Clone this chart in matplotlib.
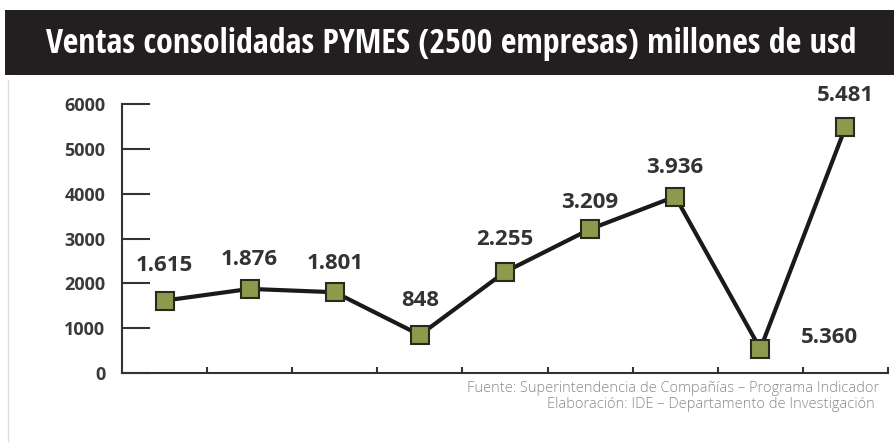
import matplotlib
matplotlib.use("Agg")
import matplotlib.pyplot as plt
from matplotlib.patches import Rectangle

# Ventas consolidadas (millones de USD)
periods = ["P1", "P2", "P3", "P4", "P5", "P6", "P7", "P8", "P9"]
ventas = [1615, 1876, 1801, 848, 2255, 3209, 3936, 536, 5481]
value_labels = ["1.615", "1.876", "1.801", "848", "2.255", "3.209", "3.936", "5.360", "5.481"]
y_ticks = [0, 1000, 2000, 3000, 4000, 5000, 6000]

title = "Ventas consolidadas PYMES (2500 empresas) millones de usd"
source_lines = ["Fuente: Superintendencia de Compañías – Programa Indicador",
                "Elaboración: IDE – Departamento de Investigación"]

W, H = 894, 442
fig = plt.figure(figsize=(W / 100, H / 100), dpi=100)
fig.patch.set_facecolor("white")

# dark title band
fig.patches.append(Rectangle((5 / W, 1 - 75 / H), 889 / W, 65 / H,
                             transform=fig.transFigure, facecolor="#231f20",
                             edgecolor="none", zorder=0))
fig.text(451 / W, 1 - 44 / H, title, color="white", ha="center", va="center",
         fontsize=24.5, fontweight="bold", family=["Open Sans Condensed", "DejaVu Sans"])

# thin frame line on the left
fig.add_artist(plt.Line2D([8 / W, 8 / W], [0, 1 - 80 / H], transform=fig.transFigure,
                          color="#dcdcdc", lw=1))

left, right = 122, 888
top, bottom = 104, 373
ax = fig.add_axes([left / W, 1 - bottom / H, (right - left) / W, (bottom - top) / H])
x = list(range(len(periods)))
ax.plot(x, ventas, color="#1a1a1a", lw=3, zorder=2, clip_on=False)
ax.plot(x, ventas, ls="none", marker="s", ms=12.5, mfc="#8c9a4e", mec="#2a2a1a",
        mew=1.5, zorder=3, clip_on=False)

ax.set_xlim(-0.5, len(periods) - 0.5)
ax.set_ylim(0, 6000)
for s in ("top", "right"):
    ax.spines[s].set_visible(False)
for s in ("left", "bottom"):
    ax.spines[s].set_color("#333333")
    ax.spines[s].set_linewidth(1.5)

ax.set_yticks(y_ticks)
ax.set_yticklabels([str(v) for v in y_ticks], fontsize=13, fontweight="bold",
                   color="#3a3a3a", family="Open Sans")
ax.tick_params(axis="y", direction="in", length=20, width=1.5, color="#333333", pad=12)
ax.set_xticks([i + 0.5 for i in x])
ax.set_xticklabels([])
ax.tick_params(axis="x", direction="in", length=4, width=1.5, color="#333333")

offsets = [(0, 25), (0, 21), (0, 21), (0, 25), (0, 23), (0, 19), (0, 21), (50, 8), (0, 23)]
for xi, yv, lab, (dx, dy) in zip(x, ventas, value_labels, offsets):
    ax.annotate(lab, (xi, yv), xytext=(dx, dy), textcoords="offset points",
                ha="center", va="center", fontsize=16, fontweight="bold",
                color="#333333", family="Open Sans", annotation_clip=False)

fig.text(879 / W, 1 - 389 / H, source_lines[0], ha="right", va="center",
         fontsize=10.5, fontweight="light", color="#8a8a8a", family="Open Sans")
fig.text(875 / W, 1 - 405 / H, source_lines[1], ha="right", va="center",
         fontsize=10.5, fontweight="light", color="#8a8a8a", family="Open Sans")

fig.savefig("out.png", dpi=100)
